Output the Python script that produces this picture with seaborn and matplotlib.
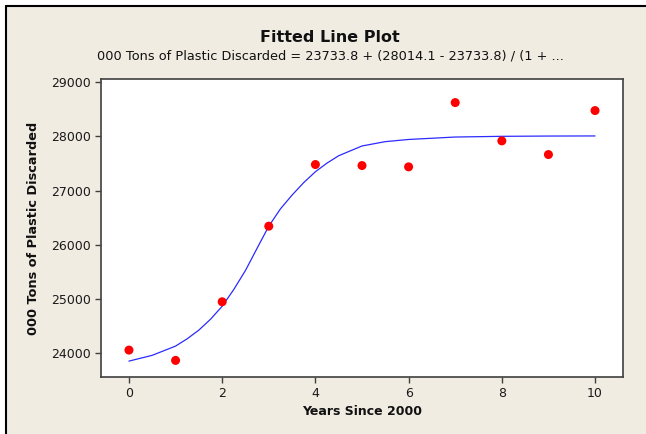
import matplotlib
matplotlib.use("Agg")
import matplotlib.pyplot as plt
import seaborn as sns
import pandas as pd
from matplotlib.patches import Rectangle
from matplotlib.lines import Line2D

# observed values
years = [0, 1, 2, 3, 4, 5, 6, 7, 8, 9, 10]
tons = [24061, 23871, 24952, 26346, 27483, 27464, 27440, 28625, 27919, 27667, 28478]

# fitted curve
fit_x = [0, 0.5, 1, 1.25, 1.5, 1.75, 2, 2.25, 2.5, 2.75, 3, 3.25, 3.5, 3.75, 4,
         4.25, 4.5, 5, 5.5, 6, 7, 8, 9, 10]
fit_y = [23858, 23965, 24135, 24270, 24430, 24630, 24870, 25180, 25530, 25940, 26346,
         26665, 26920, 27150, 27350, 27510, 27645, 27825, 27905, 27945, 27990, 28003,
         28008, 28010]

x_ticks = [0, 2, 4, 6, 8, 10]
y_ticks = [24000, 25000, 26000, 27000, 28000, 29000]

title = "Fitted Line Plot"
subtitle = "000 Tons of Plastic Discarded = 23733.8 + (28014.1 - 23733.8) / (1 + ..."
x_label = "Years Since 2000"
y_label = "000 Tons of Plastic Discarded"

sns.set_theme(style="white")
plt.rcParams["font.family"] = ["DejaVu Sans"]

beige = "#F0ECE2"
W, H = 646, 434
fig = plt.figure(figsize=(W / 100, H / 100), dpi=100, facecolor="white")

# beige panel with dark border on top and left
fig.patches.append(Rectangle((7 / W, 0), 1, 1 - 7 / H, transform=fig.transFigure,
                             facecolor=beige, edgecolor="none", zorder=-5))
fig.lines.append(Line2D([6 / W, 1], [1 - 6 / H, 1 - 6 / H], transform=fig.transFigure,
                        color="black", lw=1.5, zorder=-4))
fig.lines.append(Line2D([6 / W, 6 / W], [0, 1 - 6 / H], transform=fig.transFigure,
                        color="black", lw=1.5, zorder=-4))

ax = fig.add_axes([101 / W, 1 - 377 / H, 522 / W, 298 / H])
ax.set_zorder(2)
ax.set_facecolor("white")

pts = pd.DataFrame({"x": years, "y": tons})
curve = pd.DataFrame({"x": fit_x, "y": fit_y})

sns.lineplot(data=curve, x="x", y="y", ax=ax, color="#2b2bff", lw=0.9, zorder=2)
sns.scatterplot(data=pts, x="x", y="y", ax=ax, color="#ff0000", s=42,
                edgecolor="none", zorder=3)

ax.set_xlim(-0.6, 10.6)
ax.set_ylim(23565, 29060)
ax.set_xticks(x_ticks)
ax.set_yticks(y_ticks)
ax.tick_params(axis="both", which="both", direction="out", length=4, width=1,
               color="#404040", labelsize=9, labelcolor="#1a1a1a", pad=3,
               left=True, bottom=True)
for s in ax.spines.values():
    s.set_color("#404040")
    s.set_linewidth(1.2)

ax.set_xlabel(x_label, fontsize=9, fontweight="bold", color="#111111", labelpad=4)
ax.set_ylabel(y_label, fontsize=9.3, fontweight="bold", color="#111111", labelpad=8)

fig.text(330 / W, 1 - 37 / H, title, ha="center", va="center", fontsize=11.5,
         fontweight="bold", color="#111111")
fig.text(330 / W, 1 - 56 / H, subtitle, ha="center", va="center", fontsize=9.3,
         color="#111111")

fig.savefig("out.png", dpi=100, facecolor=fig.get_facecolor())
